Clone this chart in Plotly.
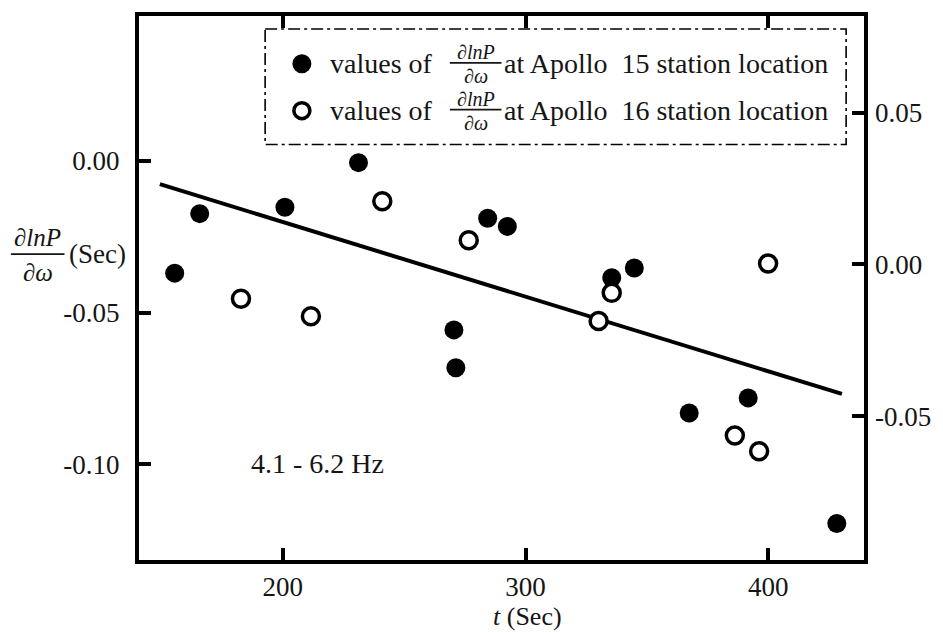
import plotly.graph_objects as go

# ---- data ----
a15_t = [155.5, 165.8, 200.9, 231.2, 270.5, 271.3, 284.4, 292.5, 335.5, 344.8, 367.4, 391.7, 428.2]
a15_v = [-0.0370, -0.0174, -0.0153, -0.0006, -0.0557, -0.0682, -0.0189, -0.0216, -0.0385, -0.0353, -0.0831, -0.0781, -0.1195]
a16_t = [182.8, 211.6, 241.0, 276.6, 330.1, 335.5, 386.2, 396.2, 399.9]
a16_v = [-0.0454, -0.0512, -0.0133, -0.0262, -0.0528, -0.0435, -0.0905, -0.0957, -0.0338]
fit_t = [149.4, 430.3]
fit_v = [-0.0077, -0.0768]

x_ticks = [200, 300, 400]
x_ticktext = ["200", "300", "400"]
yl_ticks = [0.0, -0.05, -0.10]
yl_ticktext = ["0.00", "-0.05", "-0.10"]
yr_ticks = [0.05, 0.0, -0.05]
yr_ticktext = ["0.05", "0.00", "-0.05"]
x_range = [140.8, 439.4]
yl_range = [-0.1315, 0.0477]
yr_offset = 0.0341
legend_labels = ["at Apollo  15 station location", "at Apollo  16 station location"]

# ---- layout geometry ----
W, H = 943, 632
L, R, T, B = 139, 74, 14, 72
PW, PH = W - L - R, H - T - B
FONT = "Times New Roman, Liberation Serif, Tinos, DejaVu Serif, serif"
TXT = "#151515"


def px(xp):
    return (xp - L) / PW


def py(yp):
    return 1 - (yp - T) / PH


fig = go.Figure()

fig.add_trace(go.Scatter(x=fit_t, y=fit_v, mode="lines",
                         line=dict(color="black", width=4), showlegend=False))
fig.add_trace(go.Scatter(x=a15_t, y=a15_v, mode="markers",
                         marker=dict(size=19, color="black", line=dict(width=0)),
                         showlegend=False))
fig.add_trace(go.Scatter(x=a16_t, y=a16_v, mode="markers",
                         marker=dict(size=17, color="white", line=dict(width=3.5, color="black")),
                         showlegend=False))
# invisible trace to activate the right axis
fig.add_trace(go.Scatter(x=[x_range[0]], y=[yl_range[0] + yr_offset], yaxis="y2",
                         mode="markers", marker=dict(opacity=0), showlegend=False,
                         hoverinfo="skip"))

shapes = []
annotations = []

# legend box (dash-dot)
shapes.append(dict(type="rect", xref="paper", yref="paper",
                   x0=px(266), x1=px(851), y0=py(27), y1=py(143),
                   line=dict(color="black", width=1.6, dash="12px,4px,3px,4px"),
                   fillcolor="white", layer="above"))

rows = [62, 109]
for i, yc in enumerate(rows):
    filled = (i == 0)
    shapes.append(dict(type="circle", xref="paper", yref="paper",
                       xsizemode="pixel", ysizemode="pixel",
                       xanchor=px(303), yanchor=py(yc),
                       x0=-9.5 if filled else -8, x1=9.5 if filled else 8,
                       y0=-9.5 if filled else -8, y1=9.5 if filled else 8,
                       fillcolor="black" if filled else "white",
                       line=dict(color="black", width=0 if filled else 3.5),
                       layer="above"))
    annotations.append(dict(x=px(329), y=py(yc), xref="paper", yref="paper",
                            text="values of", showarrow=False, xanchor="left",
                            yanchor="middle", font=dict(family=FONT, size=28, color=TXT)))
    annotations.append(dict(x=px(478), y=py(yc - 12), xref="paper", yref="paper",
                            text="<i>∂lnP</i>", showarrow=False, xanchor="center",
                            yanchor="middle", font=dict(family=FONT, size=20, color=TXT)))
    shapes.append(dict(type="line", xref="paper", yref="paper",
                       x0=px(452), x1=px(504), y0=py(yc - 1), y1=py(yc - 1),
                       line=dict(color=TXT, width=1.6), layer="above"))
    annotations.append(dict(x=px(478), y=py(yc + 12), xref="paper", yref="paper",
                            text="<i>∂ω</i>", showarrow=False, xanchor="center",
                            yanchor="middle", font=dict(family=FONT, size=20, color=TXT)))
    annotations.append(dict(x=px(505), y=py(yc), xref="paper", yref="paper",
                            text=legend_labels[i], showarrow=False, xanchor="left",
                            yanchor="middle", font=dict(family=FONT, size=28, color=TXT)))

# y axis label (fraction + (Sec))
annotations.append(dict(x=px(37), y=py(236), xref="paper", yref="paper",
                        text="<i>∂lnP</i>", showarrow=False, xanchor="center",
                        yanchor="middle", font=dict(family=FONT, size=25, color=TXT)))
shapes.append(dict(type="line", xref="paper", yref="paper",
                   x0=px(10), x1=px(64), y0=py(253), y1=py(253),
                   line=dict(color=TXT, width=1.8)))
annotations.append(dict(x=px(37), y=py(271), xref="paper", yref="paper",
                        text="<i>∂ω</i>", showarrow=False, xanchor="center",
                        yanchor="middle", font=dict(family=FONT, size=25, color=TXT)))
annotations.append(dict(x=px(67), y=py(253), xref="paper", yref="paper",
                        text="(Sec)", showarrow=False, xanchor="left",
                        yanchor="middle", font=dict(family=FONT, size=27, color=TXT)))

# x axis title
annotations.append(dict(x=px(530), y=py(617), xref="paper", yref="paper",
                        text="<i>t</i> (Sec)", showarrow=False, xanchor="center",
                        yanchor="middle", font=dict(family=FONT, size=26, color=TXT)))

# band annotation
annotations.append(dict(x=px(250), y=py(463), xref="paper", yref="paper",
                        text="4.1 - 6.2 Hz", showarrow=False, xanchor="left",
                        yanchor="middle", font=dict(family=FONT, size=28, color=TXT)))

fig.update_layout(
    width=W, height=H,
    margin=dict(l=L, r=R, t=T, b=B, pad=0),
    paper_bgcolor="white", plot_bgcolor="white",
    showlegend=False,
    shapes=shapes, annotations=annotations,
    font=dict(family=FONT, size=27, color=TXT),
    xaxis=dict(range=x_range, tickvals=x_ticks, ticktext=x_ticktext,
               showgrid=False, zeroline=False, showline=True, linecolor="black",
               linewidth=4, mirror="ticks", ticks="inside", ticklen=12, tickwidth=4,
               tickcolor="black", ticklabelstandoff=0,
               tickfont=dict(family=FONT, size=27, color=TXT)),
    yaxis=dict(range=yl_range, tickvals=yl_ticks, ticktext=yl_ticktext,
               showgrid=False, zeroline=False, showline=True, linecolor="black",
               linewidth=4, mirror=True, ticks="inside", ticklen=12, tickwidth=4,
               tickcolor="black", ticklabelstandoff=10,
               tickfont=dict(family=FONT, size=27, color=TXT)),
    yaxis2=dict(range=[yl_range[0] + yr_offset, yl_range[1] + yr_offset],
                tickvals=yr_ticks, ticktext=yr_ticktext, overlaying="y", side="right",
                showgrid=False, zeroline=False, showline=False, ticks="inside",
                ticklen=12, tickwidth=4, tickcolor="black", ticklabelstandoff=10,
                tickfont=dict(family=FONT, size=27, color=TXT)),
)

fig.write_html("out.html")
